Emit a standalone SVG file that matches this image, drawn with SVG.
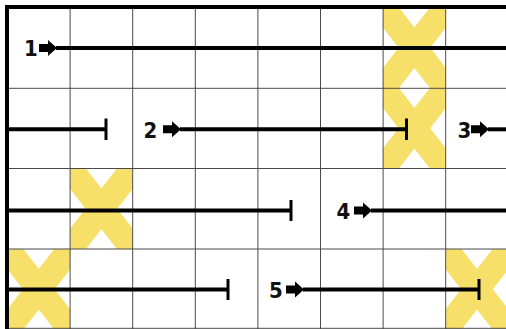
<svg xmlns="http://www.w3.org/2000/svg" xmlns:xlink="http://www.w3.org/1999/xlink" width="506" height="329" viewBox="0 0 506 329">
<style>
.cross{stroke:#f7e06a;stroke-width:25;fill:none}
.grid{stroke:#4a4a4a;stroke-width:1;fill:none}
.border{stroke:#000;stroke-width:4;fill:none}
.track{stroke:#000;stroke-width:4;fill:none}
.bar{stroke:#000;stroke-width:3;fill:none}
.num{font-family:"DejaVu Sans Condensed","DejaVu Sans",sans-serif;font-stretch:condensed;font-weight:bold;font-size:22px;fill:#111;text-anchor:middle}
</style>
<defs>
<path id="arr" d="M0,-4 H9 V-8 L18,0 L9,8 V4 H0 Z" fill="#000"/>
<clipPath id="cA"><rect x="383.1" y="7.5" width="62.6" height="80.5"/></clipPath>
<clipPath id="cB"><rect x="383.1" y="88" width="62.6" height="80.5"/></clipPath>
<clipPath id="cC"><rect x="70.1" y="168.5" width="62.6" height="80.5"/></clipPath>
<clipPath id="cD"><rect x="7.5" y="249" width="62.6" height="80.5"/></clipPath>
<clipPath id="cE"><rect x="445.7" y="249" width="62.6" height="80.5"/></clipPath>
</defs>
<rect width="506" height="329" fill="#fff"/>
<g id="crosses">
<g clip-path="url(#cA)" class="cross"><line x1="370.6" y1="-8.6" x2="458.2" y2="104.1"/><line x1="458.2" y1="-8.6" x2="370.6" y2="104.1"/></g>
<g clip-path="url(#cB)" class="cross"><line x1="370.6" y1="71.9" x2="458.2" y2="184.6"/><line x1="458.2" y1="71.9" x2="370.6" y2="184.6"/></g>
<g clip-path="url(#cC)" class="cross"><line x1="57.6" y1="152.4" x2="145.2" y2="265.1"/><line x1="145.2" y1="152.4" x2="57.6" y2="265.1"/></g>
<g clip-path="url(#cD)" class="cross"><line x1="-5" y1="232.9" x2="82.6" y2="345.6"/><line x1="82.6" y1="232.9" x2="-5" y2="345.6"/></g>
<g clip-path="url(#cE)" class="cross"><line x1="433.2" y1="232.9" x2="520.8" y2="345.6"/><line x1="520.8" y1="232.9" x2="433.2" y2="345.6"/></g>
</g>
<g id="grid" class="grid">
<line x1="70.1" y1="7" x2="70.1" y2="329"/>
<line x1="132.7" y1="7" x2="132.7" y2="329"/>
<line x1="195.3" y1="7" x2="195.3" y2="329"/>
<line x1="257.9" y1="7" x2="257.9" y2="329"/>
<line x1="320.5" y1="7" x2="320.5" y2="329"/>
<line x1="383.1" y1="7" x2="383.1" y2="329"/>
<line x1="445.7" y1="7" x2="445.7" y2="329"/>
<line x1="7" y1="88.3" x2="506" y2="88.3"/>
<line x1="7" y1="168.5" x2="506" y2="168.5"/>
<line x1="7" y1="249" x2="506" y2="249"/>
<line x1="7" y1="328.3" x2="506" y2="328.3"/>
</g>
<g id="frame" class="border">
<path d="M7,329 V7 H506"/>
</g>
<g id="connectors">
<g id="track1">
<use xlink:href="#arr" href="#arr" x="39" y="48"/>
<line class="track" x1="56" y1="48" x2="506" y2="48"/>
</g>
<g id="track2">
<line class="track" x1="7" y1="129.3" x2="107" y2="129.3"/>
<line class="bar" x1="106" y1="118.5" x2="106" y2="140"/>
<use xlink:href="#arr" href="#arr" x="163" y="129.3"/>
<line class="track" x1="180" y1="129.3" x2="407" y2="129.3"/>
<line class="bar" x1="406.5" y1="118.5" x2="406.5" y2="140"/>
</g>
<g id="track3">
<use xlink:href="#arr" href="#arr" x="471" y="129.3"/>
<line class="track" x1="488" y1="129.3" x2="506" y2="129.3"/>
</g>
<g id="track4">
<line class="track" x1="7" y1="210.5" x2="291" y2="210.5"/>
<line class="bar" x1="291" y1="200" x2="291" y2="221"/>
<use xlink:href="#arr" href="#arr" x="354" y="210.5"/>
<line class="track" x1="371" y1="210.5" x2="506" y2="210.5"/>
</g>
<g id="track5">
<line class="track" x1="7" y1="289.5" x2="228" y2="289.5"/>
<line class="bar" x1="228" y1="279" x2="228" y2="300"/>
<use xlink:href="#arr" href="#arr" x="286" y="289.5"/>
<line class="track" x1="303" y1="289.5" x2="480" y2="289.5"/>
<line class="bar" x1="479" y1="279" x2="479" y2="300"/>
</g>
</g>
<g id="labels">
<text id="n1" class="num" x="31" y="55.5">1</text>
<text id="n2" class="num" x="150.5" y="137.5">2</text>
<text id="n3" class="num" x="464.5" y="137.5">3</text>
<text id="n4" class="num" x="343.5" y="218.5">4</text>
<text id="n5" class="num" x="276" y="297.5">5</text>
</g>
</svg>
